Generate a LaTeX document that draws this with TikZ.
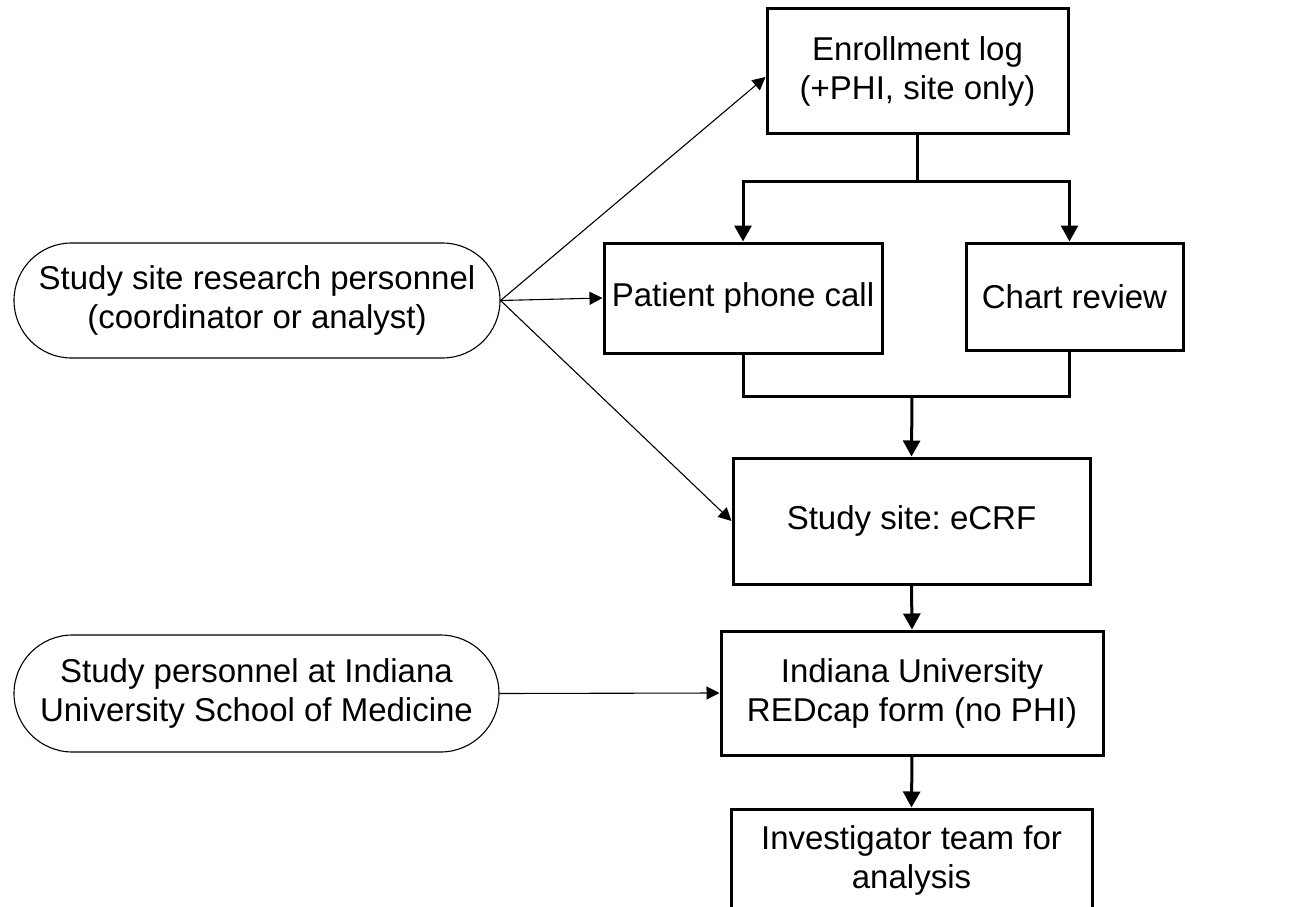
\documentclass[tikz,border=0pt]{standalone}
\usepackage{fontspec}
\setmainfont{Liberation Sans}
\usetikzlibrary{shapes.misc,arrows.meta,calc}
\frenchspacing
\begin{document}
\begin{tikzpicture}[x=1pt,y=-1pt,
  txt/.style={font=\fontsize{33}{39}\selectfont, align=center},
  box/.style={txt, draw, line width=3pt, inner sep=0pt},
  pill/.style={txt, draw, rounded rectangle, line width=1.1pt, inner sep=0pt},
  link/.style={line width=3pt},
  thickarrow/.style={line width=3pt, -{Triangle[length=16pt,width=17pt]}},
  thinarrow/.style={line width=1.1pt, -{Triangle[length=13pt,width=13pt]}}]
\useasboundingbox[fill=white] (0,0) rectangle (1302,907);

\node[box, minimum width=301pt, minimum height=124pt] (enroll) at (917.5,71) {Enrollment log\\(+PHI, site only)};
\node[box, minimum width=278pt, minimum height=110pt] (patient) at (743,298) {Patient phone call};
\node[box, minimum width=217pt, minimum height=107pt] (chart) at (1074.5,296.5) {Chart review};
\node[box, minimum width=357pt, minimum height=126pt] (ecrf) at (911.5,521) {Study site: eCRF};
\node[box, minimum width=382pt, minimum height=124pt] (redcap) at (912,693) {Indiana University\\REDcap form (no PHI)};
\node[box, minimum width=361pt, minimum height=102pt] (invest) at (911.5,860) {Investigator team for\\analysis};

\node[pill, minimum width=486pt, minimum height=115pt] (site) at (257,300.5) {Study site research personnel\\(coordinator or analyst)};
\node[pill, minimum width=485pt, minimum height=117pt] (iu) at (256.5,693.5) {Study personnel at Indiana\\University School of Medicine};

\coordinate (split) at (917.5,181);
\coordinate (merge) at (912,396);

\draw[link] (enroll.south) -- (split);
\draw[thickarrow] (split) -| (patient.north);
\draw[thickarrow] (split) -| (enroll.east |- chart.north);

\draw[link] (patient.south) |- (merge);
\draw[link] (enroll.east |- chart.south) |- (merge);
\draw[thickarrow] (merge) -- (ecrf.north);

\draw[thickarrow] (ecrf.south) -- (redcap.north);
\draw[thickarrow] (redcap.south) -- (invest.north);

\draw[thinarrow] (site.east) -- ([yshift=-6pt]enroll.west);
\draw[thinarrow] (site.east) -- (patient.west);
\draw[thinarrow] (site.east) -- (ecrf.west);
\draw[thinarrow] (iu.east) -- (redcap.west);
\end{tikzpicture}
\end{document}
